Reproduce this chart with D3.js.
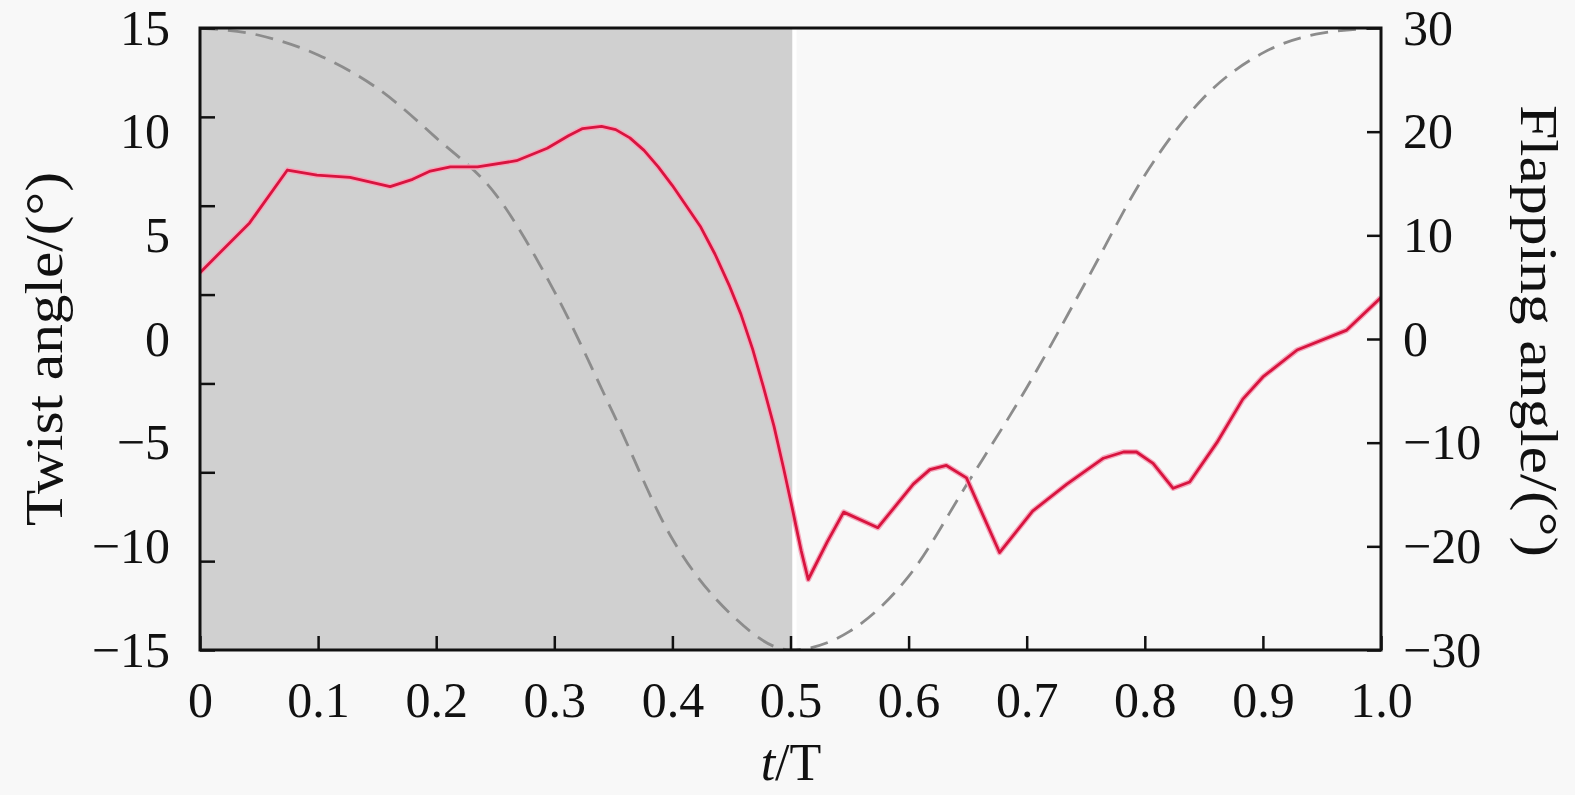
<!DOCTYPE html>
<html>
<head>
<meta charset="utf-8">
<script src="https://cdn.jsdelivr.net/npm/d3@7"></script>
<style>
  html, body { margin: 0; padding: 0; background: #f8f8f8; }
  svg { display: block; }
  text { font-family: "Liberation Serif", "DejaVu Serif", serif; fill: #111; }
</style>
</head>
<body>
<svg id="chart" width="1575" height="795"></svg>
<script>
// ---------------- data ----------------
const twistT = [0.000, 0.042, 0.074, 0.099, 0.127, 0.161, 0.180, 0.195, 0.212, 0.235, 0.268, 0.294, 0.312, 0.324, 0.340, 0.352, 0.364, 0.376, 0.388, 0.400, 0.412, 0.424, 0.436, 0.448, 0.458, 0.468, 0.477, 0.486, 0.494, 0.502, 0.509, 0.515, 0.531, 0.545, 0.574, 0.604, 0.618, 0.632, 0.649, 0.677, 0.705, 0.734, 0.765, 0.782, 0.793, 0.807, 0.824, 0.838, 0.861, 0.883, 0.900, 0.929, 0.971, 1.000];
const twistV = [3.2, 5.6, 8.15, 7.9, 7.8, 7.35, 7.7, 8.1, 8.3, 8.3, 8.6, 9.2, 9.8, 10.15, 10.25, 10.1, 9.7, 9.1, 8.3, 7.4, 6.4, 5.4, 4.1, 2.6, 1.2, -0.5, -2.3, -4.2, -6.2, -8.3, -10.2, -11.6, -9.8, -8.35, -9.1, -7.0, -6.3, -6.1, -6.7, -10.3, -8.3, -7.0, -5.75, -5.45, -5.45, -6.0, -7.2, -6.9, -5.0, -2.9, -1.83, -0.53, 0.43, 2.0];

const flapT = [0.00, 0.05, 0.10, 0.15, 0.20, 0.25, 0.30, 0.35, 0.40, 0.45, 0.50, 0.55, 0.60, 0.65, 0.70, 0.75, 0.80, 0.85, 0.90, 0.95, 1.00];
const flapV = [30, 29.3, 27.4, 24.2, 19.4, 14.0, 4.6, -7.2, -19.3, -26.6, -30, -28.2, -22.9, -13.9, -4.7, 5.5, 15.8, 23.3, 27.6, 29.5, 30];

const xTicks = [0, 0.1, 0.2, 0.3, 0.4, 0.5, 0.6, 0.7, 0.8, 0.9, 1.0];
const leftTickLabels = [15, 10, 5, 0, -5, -10, -15];
const leftTickMarks = [-15, -10.714, -6.429, -2.143, 2.143, 6.429, 10.714, 15];
const rightTicks = [30, 20, 10, 0, -10, -20, -30];
const shadedRegion = [0, 0.5];

// ---------------- layout ----------------
const svg = d3.select("#chart");
const L = 200, R = 1381, T = 28, B = 650;
const x = d3.scaleLinear([0, 1], [L, R]);
const yL = d3.scaleLinear([-15, 15], [B, T]);
const yR = d3.scaleLinear([-30, 30], [B, T]);

svg.append("defs").append("clipPath").attr("id", "clip")
  .append("rect").attr("x", L).attr("y", T).attr("width", R - L).attr("height", B - T);

// shaded downstroke
svg.append("rect")
  .attr("x", x(shadedRegion[0])).attr("y", T)
  .attr("width", x(shadedRegion[1]) - x(shadedRegion[0]) + 2)
  .attr("height", B - T)
  .attr("fill", "#d0d0d0");
svg.append("rect")
  .attr("x", x(shadedRegion[1]) + 2).attr("y", T)
  .attr("width", 4).attr("height", B - T)
  .attr("fill", "#ffffff");

const g = svg.append("g").attr("clip-path", "url(#clip)");

// flapping angle (dashed, right axis)
const flapData = flapT.map((t, i) => [t, flapV[i]]);
g.append("path")
  .datum(flapData)
  .attr("fill", "none")
  .attr("stroke", "#8c8c8c")
  .attr("stroke-width", 2.8)
  .attr("stroke-dasharray", "18,10")
  .attr("d", d3.line().x(d => x(d[0])).y(d => yR(d[1])).curve(d3.curveMonotoneX));

// twist angle (red, left axis)
const twistData = twistT.map((t, i) => [t, twistV[i]]);
const twistLine = d3.line().x(d => x(d[0])).y(d => yL(d[1]));
g.append("path")
  .datum(twistData)
  .attr("fill", "none")
  .attr("stroke", "#f5a9bd")
  .attr("stroke-width", 5.5)
  .attr("stroke-linejoin", "round")
  .attr("d", twistLine);
g.append("path")
  .datum(twistData)
  .attr("fill", "none")
  .attr("stroke", "#d8143f")
  .attr("stroke-width", 2.8)
  .attr("stroke-linejoin", "round")
  .attr("d", twistLine);

// ---------------- axes ----------------
const fs = 50;
const xFmt = d => d === 0 ? "0" : d3.format(".1f")(d);

const gx = svg.append("g").attr("transform", `translate(0,${B})`)
  .call(d3.axisBottom(x).tickValues(xTicks).tickFormat(xFmt).tickSizeInner(-14).tickSizeOuter(0).tickPadding(31));
gx.select(".domain").remove();

const gyl = svg.append("g").attr("transform", `translate(${L},0)`)
  .call(d3.axisLeft(yL).tickValues(leftTickLabels).tickSize(0).tickPadding(30));
gyl.select(".domain").remove();

const gylm = svg.append("g").attr("transform", `translate(${L},0)`)
  .call(d3.axisLeft(yL).tickValues(leftTickMarks).tickFormat("").tickSizeInner(-15).tickSizeOuter(0));
gylm.select(".domain").remove();

const gyr = svg.append("g").attr("transform", `translate(${R},0)`)
  .call(d3.axisRight(yR).tickValues(rightTicks).tickSizeInner(-14).tickSizeOuter(0).tickPadding(22));
gyr.select(".domain").remove();

svg.selectAll(".tick line").attr("stroke", "#111").attr("stroke-width", 2.5);
svg.selectAll(".tick text")
  .attr("font-family", '"Liberation Serif", serif')
  .attr("font-size", fs)
  .attr("fill", "#111");

// frame
svg.append("rect")
  .attr("x", L).attr("y", T).attr("width", R - L).attr("height", B - T)
  .attr("fill", "none").attr("stroke", "#111").attr("stroke-width", 3);

// ---------------- titles ----------------
svg.append("text")
  .attr("transform", `translate(44,${(T + B) / 2 + 10}) rotate(-90)`)
  .attr("text-anchor", "middle")
  .attr("dominant-baseline", "central")
  .attr("font-size", 52)
  .attr("textLength", 354).attr("lengthAdjust", "spacingAndGlyphs")
  .text("Twist angle/(°)");

svg.append("text")
  .attr("transform", `translate(1538,${331}) rotate(90)`)
  .attr("text-anchor", "middle")
  .attr("dominant-baseline", "central")
  .attr("font-size", 52)
  .attr("textLength", 452).attr("lengthAdjust", "spacingAndGlyphs")
  .text("Flapping angle/(°)");

const xt = svg.append("text")
  .attr("x", 791).attr("y", 780)
  .attr("text-anchor", "middle")
  .attr("font-size", 52);
xt.append("tspan").attr("font-style", "italic").text("t");
xt.append("tspan").text("/T");
</script>
</body>
</html>
